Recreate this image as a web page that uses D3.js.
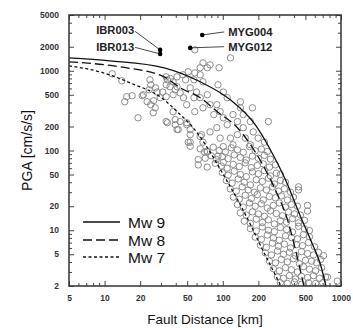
<!DOCTYPE html>
<html><head><meta charset="utf-8">
<script src="https://cdn.jsdelivr.net/npm/d3@7"></script>
<style>
body{margin:0;background:#fff;}
svg{display:block;font-family:"Liberation Sans",Arial,Helvetica,sans-serif;}
</style>
</head><body>
<svg id="chart" width="353" height="328"></svg>
<script>
// ---------- data ----------
const xTickValues = [5, 10, 20, 50, 100, 200, 500, 1000];
const yTickValues = [2, 5, 10, 20, 50, 100, 200, 500, 1000, 2000, 5000];
const seriesNames = ["Mw 9", "Mw 8", "Mw 7"];

const curveMw9 = [[5,1450],[11.1,1330],[31.9,1088],[64.4,727],[115.7,433],[188,211],[252,103],[339,43],[454,14.9],[573,6.7],[670,3.75],[745,2.0]];
const curveMw8 = [[5,1293],[13.5,1119],[31.9,839],[43.6,611],[64.4,459],[89.8,307],[133,193],[178,109],[229,57.7],[290,28.1],[352,13.7],[411,5.77],[485,2.0]];
const curveMw7 = [[5,1152],[9.15,969],[16.4,706],[31.9,433],[41.1,307],[56.2,193],[73.9,109],[101,50],[133,24.3],[171,11.9],[216,5.77],[263,3.25],[310,2.0]];

const stationNames = ["IBR003", "IBR013", "MYG004", "MYG012"];
const stationDist  = [29.5, 29.5, 67, 53];
const stationPga   = [1826, 1627, 2812, 1935];

// observed records [fault distance km, PGA cm/s/s]
const recordsUpper = [
[11.6,916],[14.0,747],[15.4,473],[17.1,486],[14.8,409],[19.2,257],[21.3,500],[24.2,770],[24.6,667],[27,611],
[27.8,541],[23.8,578],[20.8,486],[22.9,409],[26,421],[24.6,375],[26.8,343],[25.8,297],[33.2,839],[38,727],
[41,839],[39.6,578],[34,223],[39.6,244],[38,307],[42,183],[58,1826],[116,1450],[93,1090],[68,1256],
[64.4,1090],[74,1090],[78,1185],[58,940],[64.4,890],[51,970],[46,890],[48.5,770],[57,770],[68,727],
[36,800],[34,770],[31,541],[35.8,630],[41,630],[43.6,528],[46.5,459],[38,500],[33.2,473],[53,611],
[60,541],[57,459],[49.5,375],[64.4,459],[74,500],[78,375],[68,343],[58,307],[91,667],[101,541],
[109,459],[141,409],[89,375],[95,307],[84,282],[101,257],[122,282],[133,231],[149,282],[109,211],
[149,193],[171,231],[43.6,231],[49.5,223],[33.2,231],[41,183],[53,158],[64.4,150],[68,127],[53,127],
[78,171],[89,193],[95,143],[116,143],[133,158],[155,143],[171,118],[122,118],[101,112],[181,171],
[141,343],[178,343],[33.2,667],[29.5,459],[243,231],[199,143],[225,127],[39.6,211],[49.5,211],[53,183],
[66,158],[51,127],[53,113],[70,96],[62,77],[74,96],[91,85],[101,71]
];
const recordsBand = [
[64.4,105],[73.8,98],[83,110],[93.3,100],[105,96],[118,108],[133,102],[149,95],[168,112],[188,99],[212,104],[238,97],
[71,80],[79.9,86],[88,77],[99,84],[111,79],[125,88],[140.7,82],[158,76],[178,85],[200,80],[225,87],[252.8,78],
[62,66],[73.8,62],[86.3,69],[97.1,64],[109,60],[122.6,67],[138,63],[155,70],[174.4,61],[196,65],[220,68],[248,62],[278.6,66],
[99,53],[111,49],[125,55],[140.7,50],[158,47],[178,54],[200,51],[225,56],[252.8,48],[284,52],[307,50],
[107,42],[120,39],[135,44],[152,40],[171,37],[192,43],[216,41],[243,45],[273,38],[307,42],[339,40],
[115.7,33],[130,31],[146,35],[164,32],[185,30],[208,34],[234,32],[263,35],[296,31],[332,33],[374,30],[437,32],
[122.6,26],[138,24.5],[155,27.5],[174.4,25],[196,28],[220,24],[248,26.5],[278.6,25.5],[313,27],[352,24],[396,26],
[133,21],[149,19.5],[168,22],[188,20],[212,21.5],[238,19],[268,20.5],[301,22],[339,19.5],[381,21],[428,20],[521,20.5],
[140.7,16.5],[158,15.5],[178,17],[200,16],[225,15],[252.8,17.5],[284,16.2],[320,15.2],[359,17],[404,16],[454,15.5],
[152,13],[171,12.2],[192,13.8],[216,12.5],[243,13.5],[273,12],[307,13.2],[346,12.6],[389,14],[437,12.4],[491,13.3],
[171,10.5],[192,9.8],[216,11],[243,10],[273,9.6],[307,10.8],[346,10.2],[389,9.5],[437,11.2],[491,10.4],[541,9.9],
[188,8.2],[212,7.7],[238,8.7],[268,8.0],[301,7.5],[339,8.5],[381,8.1],[428,7.8],[481,8.8],[541,8.3],
[208,6.5],[234,6.1],[263,6.9],[296,6.3],[332,6.7],[374,6.0],[420,6.6],[472,6.4],[531,7.0],[597,6.2],
[229,5.2],[258,4.9],[290,5.5],[326,5.0],[366,5.3],[412,4.8],[463,5.4],[521,5.1],[585,4.9],[645,5.3],
[248,4.1],[278.6,3.9],[313,4.3],[352,4.0],[396,4.4],[445,3.8],[500,4.2],[563,4.1],[621,3.9],[671,4.3],
[268,3.3],[301,3.1],[339,3.4],[381,3.2],[428,3.0],[481,3.5],[541,3.25],[609,3.1],[685,3.4],
[290,2.6],[326,2.5],[366,2.7],[412,2.45],[463,2.65],[521,2.55],[585,2.7],[658,2.5],[740,2.6],
[307,2.2],[352,2.15],[404,2.25],[463,2.1],[531,2.2],[609,2.15],[698,2.2],
[437,35],[521,17.4],[711,4.8],[769,2.58],[930,2.3]
];

// ---------- layout ----------
const svg = d3.select("#chart");
const L = 69, R = 341, T = 15, B = 286;
const x = d3.scaleLog().domain([5, 1000]).range([L, R]);
const y = d3.scaleLog().domain([2, 5000]).range([B, T]);

svg.append("defs").append("clipPath").attr("id","clip")
  .append("rect").attr("x",L).attr("y",T).attr("width",R-L).attr("height",B-T);

// minor tick values
function minorTicks(lo, hi, major){
  const out=[];
  for(let e=-1;e<5;e++){ for(let m=1;m<10;m++){ const v=m*Math.pow(10,e); if(v>lo && v<hi && !major.includes(v)) out.push(+v.toPrecision(3)); } }
  return out;
}
const xMinor = minorTicks(5,1000,xTickValues);
const yMinor = minorTicks(2,5000,yTickValues);

const tickColor = "#444";
function styleAxis(g){ g.select(".domain").remove(); g.selectAll(".tick line").attr("stroke",tickColor).attr("stroke-width",1); }

// bottom
svg.append("g").attr("transform",`translate(0,${B})`)
  .call(d3.axisBottom(x).tickValues(xTickValues).tickSizeInner(-5).tickSizeOuter(0).tickPadding(9).tickFormat(d3.format("d")))
  .call(styleAxis)
  .call(g=>g.selectAll("text").attr("font-size",8.5).attr("font-weight","bold").attr("fill","#333").attr("font-family","Liberation Sans, Arial, sans-serif"));
svg.append("g").attr("transform",`translate(0,${B})`)
  .call(d3.axisBottom(x).tickValues(xMinor).tickSizeInner(-3).tickSizeOuter(0).tickFormat(""))
  .call(styleAxis);
// top
svg.append("g").attr("transform",`translate(0,${T})`)
  .call(d3.axisTop(x).tickValues(xTickValues).tickSizeInner(-5).tickSizeOuter(0).tickFormat(""))
  .call(styleAxis);
svg.append("g").attr("transform",`translate(0,${T})`)
  .call(d3.axisTop(x).tickValues(xMinor).tickSizeInner(-3).tickSizeOuter(0).tickFormat(""))
  .call(styleAxis);
// left
svg.append("g").attr("transform",`translate(${L},0)`)
  .call(d3.axisLeft(y).tickValues(yTickValues).tickSizeInner(-5).tickSizeOuter(0).tickPadding(10).tickFormat(d3.format("d")))
  .call(styleAxis)
  .call(g=>g.selectAll("text").attr("font-size",8.5).attr("font-weight","bold").attr("fill","#333").attr("font-family","Liberation Sans, Arial, sans-serif"));
svg.append("g").attr("transform",`translate(${L},0)`)
  .call(d3.axisLeft(y).tickValues(yMinor).tickSizeInner(-3).tickSizeOuter(0).tickFormat(""))
  .call(styleAxis);
// right
svg.append("g").attr("transform",`translate(${R},0)`)
  .call(d3.axisRight(y).tickValues(yTickValues).tickSizeInner(-5).tickSizeOuter(0).tickFormat(""))
  .call(styleAxis);
svg.append("g").attr("transform",`translate(${R},0)`)
  .call(d3.axisRight(y).tickValues(yMinor).tickSizeInner(-3).tickSizeOuter(0).tickFormat(""))
  .call(styleAxis);

// scatter
const plot = svg.append("g").attr("clip-path","url(#clip)");
plot.selectAll("circle.rec").data(recordsUpper.concat(recordsBand)).join("circle")
  .attr("class","rec")
  .attr("cx",d=>x(d[0])).attr("cy",d=>y(d[1])).attr("r",3.2)
  .attr("fill","none").attr("stroke","#8c8c8c").attr("stroke-width",1);

// curves
const line = d3.line().x(d=>x(d[0])).y(d=>y(d[1])).curve(d3.curveMonotoneX);
const curves = [curveMw9, curveMw8, curveMw7];
const dashes = [null, "9,4", "3,2.5"];
curves.forEach((c,i)=>{
  plot.append("path").attr("d",line(c)).attr("fill","none")
    .attr("stroke","#111").attr("stroke-width",1.3)
    .attr("stroke-dasharray",dashes[i]);
});

// frame
svg.append("rect").attr("x",L).attr("y",T).attr("width",R-L).attr("height",B-T)
  .attr("fill","none").attr("stroke","#333").attr("stroke-width",1.5);

// station markers and labels
const labelCfg = {
  "IBR003": {tx:-26, ty:-19.5, anchor:"end", lx:-25, ly:-18.5},
  "IBR013": {tx:-26, ty:-7, anchor:"end", lx:-25, ly:-6.5},
  "MYG004": {tx:26, ty:-3, anchor:"start", lx:22, ly:-3},
  "MYG012": {tx:38, ty:-1, anchor:"start", lx:34, ly:-1.2}
};
stationNames.forEach((n,i)=>{
  const cx = x(stationDist[i]), cy = y(stationPga[i]);
  const c = labelCfg[n];
  svg.append("line").attr("x1",cx+c.lx).attr("y1",cy+c.ly).attr("x2",cx).attr("y2",cy)
    .attr("stroke","#333").attr("stroke-width",0.9);
  svg.append("circle").attr("cx",cx).attr("cy",cy).attr("r",2.3).attr("fill","#000");
  svg.append("text").attr("x",cx+c.tx).attr("y",cy+c.ty).attr("dy","0.35em")
    .attr("text-anchor",c.anchor).attr("font-size",11.2).attr("font-weight","bold").attr("fill","#222").text(n);
});

// legend
const legY = [222, 240, 257];
seriesNames.forEach((n,i)=>{
  svg.append("line").attr("x1",83).attr("x2",120).attr("y1",legY[i]).attr("y2",legY[i])
    .attr("stroke","#111").attr("stroke-width",1.3).attr("stroke-dasharray",dashes[i]);
  svg.append("text").attr("x",128).attr("y",legY[i]).attr("dy","0.36em")
    .attr("font-size",15.5).attr("fill","#111").text(n);
});

// axis titles
svg.append("text").attr("x",(L+R)/2).attr("y",319).attr("dy","0.35em").attr("text-anchor","middle")
  .attr("font-size",13.5).attr("fill","#111").text("Fault Distance [km]");
svg.append("text").attr("transform",`translate(27,${(T+B)/2}) rotate(-90)`).attr("dy","0.35em")
  .attr("text-anchor","middle").attr("font-size",14).attr("fill","#111").text("PGA [cm/s/s]");
</script>
</body></html>
